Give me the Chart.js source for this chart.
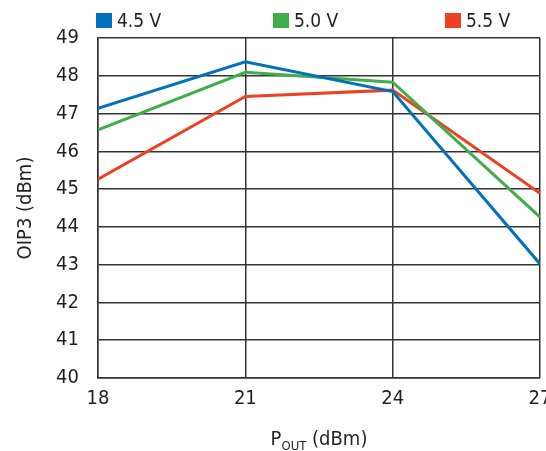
<!DOCTYPE html>
<html>
<head>
<meta charset="utf-8">
<script src="https://cdn.jsdelivr.net/npm/chart.js@4"></script>
<style>
  html, body { margin: 0; padding: 0; background: #fff; }
  #wrap { position: relative; width: 546px; height: 451px; }
  #legend { position: absolute; top: 0; left: 0; width: 546px; height: 36px; }
  .item { position: absolute; top: 9px; display: flex; align-items: center;
          font-family: "Liberation Sans Narrow", "DejaVu Sans Condensed", sans-serif;
          font-size: 19px; color: #231f20; }
  .box { width: 16px; height: 15px; margin-right: 5px; }
</style>
</head>
<body>
<div id="wrap">
  <canvas id="myChart" width="546" height="451"></canvas>
  <div id="legend"></div>
</div>
<script>
// Data
const pout = [18, 21, 24, 27];
const v45 = [47.14, 48.37, 47.58, 43.02];
const v50 = [46.57, 48.09, 47.83, 44.26];
const v55 = [45.26, 47.45, 47.62, 44.89];
const seriesNames = ['4.5 V', '5.0 V', '5.5 V'];
const seriesColors = ['#0071bc', '#3fae49', '#ee4023'];
const legendLeft = [96, 273, 445];

const FONT = '"Liberation Sans Narrow", "DejaVu Sans Condensed", sans-serif';
const textColor = '#231f20';

function toPoints(vals) {
    return pout.map((x, i) => ({ x: x, y: vals[i] }));
}

// Legend (html)
const legend = document.getElementById('legend');
seriesNames.forEach((name, i) => {
    const item = document.createElement('div');
    item.className = 'item';
    item.style.left = legendLeft[i] + 'px';
    item.innerHTML = '<div class="box" style="background:' + seriesColors[i] + '"></div><span>' + name + '</span>';
    legend.appendChild(item);
});

// x axis title with subscript
const xTitle = {
    id: 'xTitle',
    afterDraw(chart) {
        const ctx = chart.ctx;
        const area = chart.chartArea;
        const big = '20px ' + FONT;
        const small = '13px ' + FONT;
        ctx.save();
        ctx.fillStyle = textColor;
        ctx.textBaseline = 'alphabetic';
        ctx.font = big;
        const wP = ctx.measureText('P').width;
        const wR = ctx.measureText(' (dBm)').width;
        ctx.font = small;
        const wS = ctx.measureText('OUT').width;
        let x = (area.left + area.right) / 2 - (wP + wS + wR) / 2;
        const y = 445;
        ctx.font = big;
        ctx.fillText('P', x, y);
        x += wP;
        ctx.font = small;
        ctx.fillText('OUT', x, y + 5);
        x += wS;
        ctx.font = big;
        ctx.fillText(' (dBm)', x, y);
        ctx.restore();
    }
};

const data = {
    datasets: [v45, v50, v55].map((vals, i) => ({
        label: seriesNames[i],
        data: toPoints(vals),
        borderColor: seriesColors[i],
        backgroundColor: seriesColors[i],
        borderWidth: 3,
        pointRadius: 0,
        tension: 0
    }))
};

const config = {
    type: 'line',
    data: data,
    options: {
        responsive: false,
        animation: false,
        layout: { padding: { top: 38, right: 6, left: 0, bottom: 0 } },
        plugins: {
            legend: { display: false },
            tooltip: { enabled: false }
        },
        scales: {
            x: {
                type: 'linear',
                min: 18,
                max: 27,
                afterFit(scale) {
                    scale.height = 73;
                    scale.paddingLeft = 0;
                    scale.paddingRight = 0;
                },
                ticks: {
                    stepSize: 3,
                    padding: 9,
                    color: textColor,
                    font: { family: FONT, size: 20 },
                    maxRotation: 0
                },
                grid: { color: '#333', lineWidth: 1.5, drawTicks: false },
                border: { color: '#333', width: 1.5 }
            },
            y: {
                min: 40,
                max: 49,
                afterFit(scale) {
                    scale.width = 98;
                    scale.paddingTop = 0;
                    scale.paddingBottom = 0;
                },
                ticks: {
                    stepSize: 1,
                    padding: 19,
                    color: textColor,
                    font: { family: FONT, size: 20 }
                },
                title: {
                    display: true,
                    text: 'OIP3 (dBm)',
                    color: textColor,
                    font: { family: FONT, size: 20 },
                    padding: { top: 14, bottom: 0 }
                },
                grid: { color: '#333', lineWidth: 1.5, drawTicks: false },
                border: { color: '#333', width: 1.5 }
            }
        }
    },
    plugins: [xTitle]
};

const chart = new Chart(document.getElementById('myChart'), config);
</script>
</body>
</html>
